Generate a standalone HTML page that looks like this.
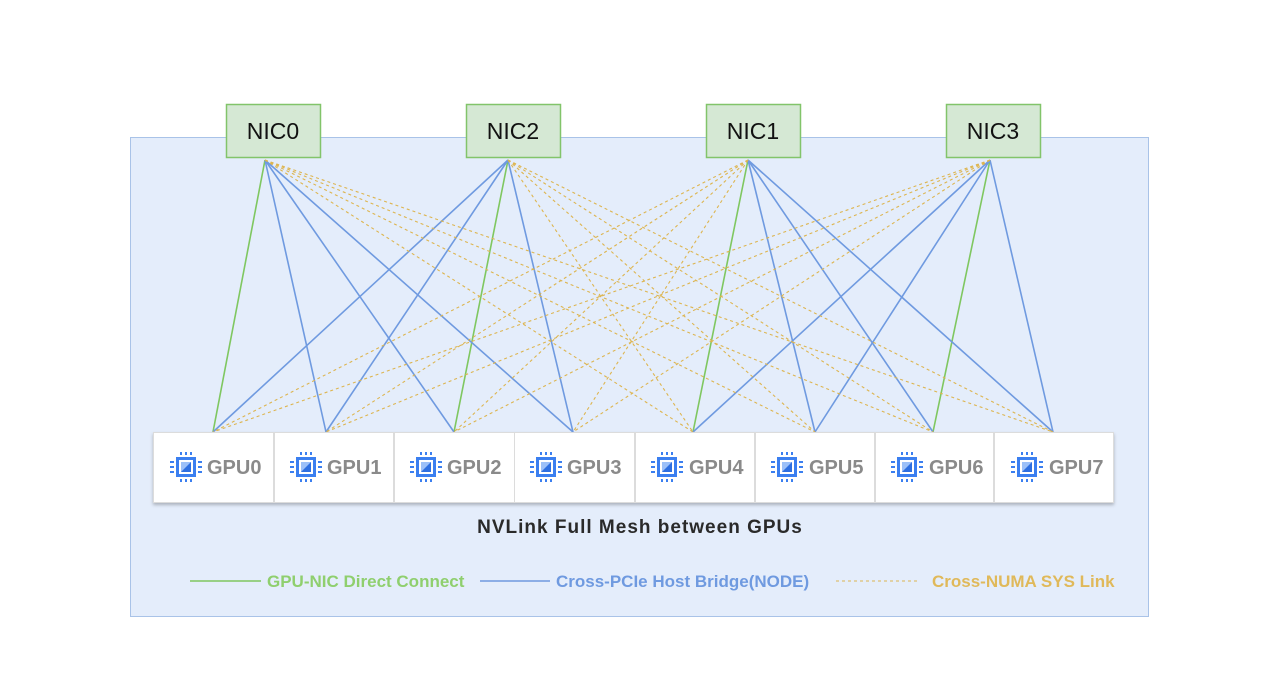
<!DOCTYPE html>
<html><head><meta charset="utf-8"><style>
body{margin:0;background:#fff;width:1280px;height:682px;overflow:hidden;font-family:"Liberation Sans",sans-serif}
</style></head><body>
<svg width="1280" height="682" xmlns="http://www.w3.org/2000/svg">
<defs>
<filter id="sh" x="-5%" y="-5%" width="110%" height="120%"><feDropShadow dx="0" dy="2" stdDeviation="1.5" flood-color="#000" flood-opacity="0.25"/></filter>
<g id="chip">
<rect x="6" y="6" width="20" height="20" fill="#3b7ff0"/>
<rect x="9" y="9" width="14" height="14" fill="#fff"/>
<rect x="11" y="11" width="10" height="10" fill="#9cc0f8"/>
<polygon points="21,11 21,21 11,21" fill="#2f6fe0"/>
<g fill="#3b7ff0">
<rect x="10" y="1" width="2" height="3"/><rect x="15" y="1" width="2" height="3"/><rect x="20" y="1" width="2" height="3"/>
<rect x="10" y="28" width="2" height="3"/><rect x="15" y="28" width="2" height="3"/><rect x="20" y="28" width="2" height="3"/>
<rect x="0" y="10" width="4" height="2"/><rect x="0" y="15" width="4" height="2"/><rect x="0" y="20" width="4" height="2"/>
<rect x="28" y="10" width="4" height="2"/><rect x="28" y="15" width="4" height="2"/><rect x="28" y="20" width="4" height="2"/>
</g></g>
</defs>
<rect x="130.5" y="137.5" width="1018" height="479" fill="#e4edfb" stroke="#a9c3e8" stroke-width="1"/>
<g stroke-width="1.6">
<g stroke="#7fc760">
<line x1="265" y1="160" x2="213" y2="432"/><line x1="508" y1="160" x2="454" y2="432"/>
<line x1="748" y1="160" x2="693" y2="432"/><line x1="990" y1="160" x2="933" y2="432"/>
</g>
<g stroke="#6f9ae0">
<line x1="265" y1="160" x2="326" y2="432"/><line x1="265" y1="160" x2="454" y2="432"/><line x1="265" y1="160" x2="573" y2="432"/>
<line x1="508" y1="160" x2="213" y2="432"/><line x1="508" y1="160" x2="326" y2="432"/><line x1="508" y1="160" x2="573" y2="432"/>
<line x1="748" y1="160" x2="815" y2="432"/><line x1="748" y1="160" x2="933" y2="432"/><line x1="748" y1="160" x2="1053" y2="432"/>
<line x1="990" y1="160" x2="693" y2="432"/><line x1="990" y1="160" x2="815" y2="432"/><line x1="990" y1="160" x2="1053" y2="432"/>
</g>
<g stroke="#ddb550" stroke-width="1.1" stroke-dasharray="3,3">
<line x1="265" y1="160" x2="693" y2="432"/><line x1="265" y1="160" x2="815" y2="432"/><line x1="265" y1="160" x2="933" y2="432"/><line x1="265" y1="160" x2="1053" y2="432"/>
<line x1="508" y1="160" x2="693" y2="432"/><line x1="508" y1="160" x2="815" y2="432"/><line x1="508" y1="160" x2="933" y2="432"/><line x1="508" y1="160" x2="1053" y2="432"/>
<line x1="748" y1="160" x2="213" y2="432"/><line x1="748" y1="160" x2="326" y2="432"/><line x1="748" y1="160" x2="454" y2="432"/><line x1="748" y1="160" x2="573" y2="432"/>
<line x1="990" y1="160" x2="213" y2="432"/><line x1="990" y1="160" x2="326" y2="432"/><line x1="990" y1="160" x2="454" y2="432"/><line x1="990" y1="160" x2="573" y2="432"/>
</g>
</g>
<g fill="#d5e8d4" stroke="#82c46a" stroke-width="1.5">
<rect x="226.5" y="104.5" width="94" height="53"/><rect x="466.5" y="104.5" width="94" height="53"/>
<rect x="706.5" y="104.5" width="94" height="53"/><rect x="946.5" y="104.5" width="94" height="53"/>
</g>
<g font-size="23" fill="#111" text-anchor="middle">
<text x="273" y="139">NIC0</text><text x="513" y="139">NIC2</text><text x="753" y="139">NIC1</text><text x="993" y="139">NIC3</text>
</g>
<g filter="url(#sh)" fill="#fff" stroke="#dcdcdc">
<rect x="153.5" y="432.5" width="120" height="70"/><rect x="274.5" y="432.5" width="119" height="70"/>
<rect x="394.5" y="432.5" width="120" height="70"/><rect x="514.5" y="432.5" width="120" height="70"/>
<rect x="635.5" y="432.5" width="119" height="70"/><rect x="755.5" y="432.5" width="119" height="70"/>
<rect x="875.5" y="432.5" width="118" height="70"/><rect x="994.5" y="432.5" width="119" height="70"/>
</g>
<use href="#chip" x="170" y="451"/><use href="#chip" x="290" y="451"/><use href="#chip" x="410" y="451"/><use href="#chip" x="530" y="451"/>
<use href="#chip" x="651" y="451"/><use href="#chip" x="771" y="451"/><use href="#chip" x="891" y="451"/><use href="#chip" x="1011" y="451"/>
<g font-size="20" font-weight="bold" fill="#8a8a8a">
<text x="207" y="474">GPU0</text><text x="327" y="474">GPU1</text><text x="447" y="474">GPU2</text><text x="567" y="474">GPU3</text>
<text x="689" y="474">GPU4</text><text x="809" y="474">GPU5</text><text x="929" y="474">GPU6</text><text x="1049" y="474">GPU7</text>
</g>
<text x="640" y="533" font-size="19" font-weight="bold" fill="#2a2a2a" text-anchor="middle" letter-spacing="1">NVLink Full Mesh between GPUs</text>
<line x1="190" y1="581" x2="261" y2="581" stroke="#7fc760" stroke-width="1.6"/>
<text x="267" y="587" font-size="17" font-weight="bold" fill="#8fcf6e">GPU-NIC Direct Connect</text>
<line x1="480" y1="581" x2="550" y2="581" stroke="#6f9ae0" stroke-width="1.6"/>
<text x="556" y="587" font-size="17" font-weight="bold" fill="#6f9ae0">Cross-PCIe Host Bridge(NODE)</text>
<line x1="836" y1="581" x2="918" y2="581" stroke="#ddb550" stroke-width="1.1" stroke-dasharray="3,3"/>
<text x="932" y="587" font-size="17" font-weight="bold" fill="#e0b95a">Cross-NUMA SYS Link</text>
</svg>
</body></html>
